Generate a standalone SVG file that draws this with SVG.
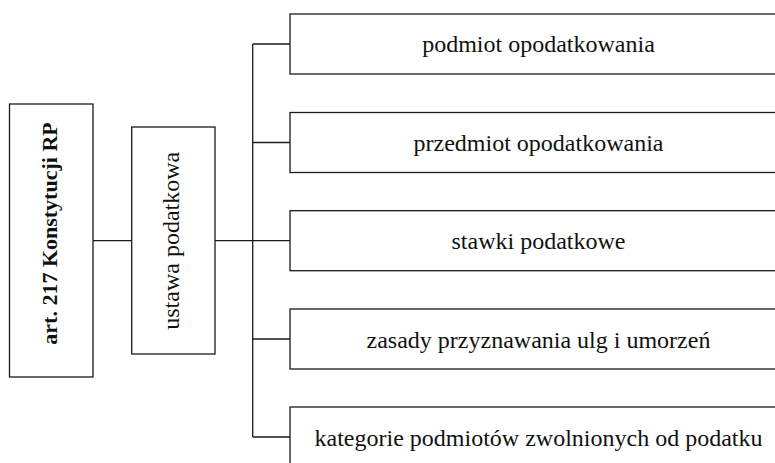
<svg xmlns="http://www.w3.org/2000/svg" width="775" height="463" viewBox="0 0 775 463">
<style>
.box{fill:#fff;stroke:#1a1a1a;stroke-width:1.3}
.con{fill:none;stroke:#1a1a1a;stroke-width:1.3}
.t{font-family:"Liberation Serif","Times New Roman",serif;font-size:24px;fill:#111;text-anchor:middle}
.b{font-weight:bold;font-size:22px}
</style>
<rect width="775" height="463" fill="#fff"/>
<g id="connectors">
<line class="con" x1="93" y1="240.7" x2="131.7" y2="240.7"/>
<line class="con" x1="215" y1="240.7" x2="290" y2="240.7"/>
<line class="con" x1="252.7" y1="44" x2="252.7" y2="437"/>
<line class="con" x1="252.7" y1="44" x2="290" y2="44"/>
<line class="con" x1="252.7" y1="142.5" x2="290" y2="142.5"/>
<line class="con" x1="252.7" y1="339" x2="290" y2="339"/>
<line class="con" x1="252.7" y1="437" x2="290" y2="437"/>
</g>
<g id="art217">
<rect class="box" x="9.5" y="104" width="83.5" height="273"/>
<text class="t b" transform="translate(57,233.5) rotate(-90)">art. 217 Konstytucji RP</text>
</g>
<g id="ustawa">
<rect class="box" x="131.7" y="127" width="83.3" height="227"/>
<text class="t" transform="translate(178.5,240.8) rotate(-90)">ustawa podatkowa</text>
</g>
<g id="podmiot">
<rect class="box" x="290" y="14" width="497" height="60"/>
<text class="t" x="538.5" y="52">podmiot opodatkowania</text>
</g>
<g id="przedmiot">
<rect class="box" x="290" y="112.5" width="497" height="60"/>
<text class="t" x="538.5" y="150.5">przedmiot opodatkowania</text>
</g>
<g id="stawki">
<rect class="box" x="290" y="210.7" width="497" height="60"/>
<text class="t" x="538.5" y="248.7">stawki podatkowe</text>
</g>
<g id="zasady">
<rect class="box" x="290" y="309" width="497" height="60"/>
<text class="t" x="538.5" y="347.5">zasady przyznawania ulg i umorzeń</text>
</g>
<g id="kategorie">
<rect class="box" x="290" y="407" width="497" height="60"/>
<text class="t" x="538.5" y="445.5">kategorie podmiotów zwolnionych od podatku</text>
</g>
</svg>
